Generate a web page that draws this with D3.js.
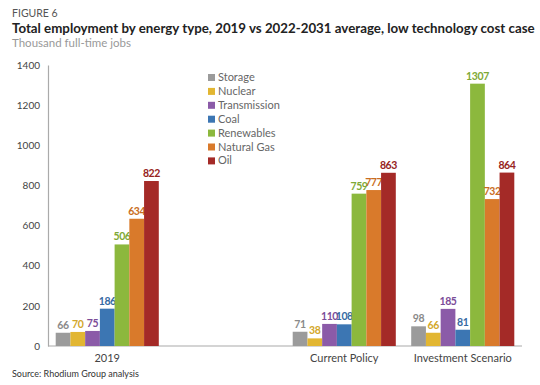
<!DOCTYPE html>
<html>
<head>
<meta charset="utf-8">
<script src="https://cdn.jsdelivr.net/npm/d3@7"></script>
<style>
  body { margin: 0; background: #fff; }
  svg text { font-family: Lato, "Noto Sans", sans-serif; }
</style>
</head>
<body>
<div id="chart"></div>
<script>
const categories = ["2019", "", "Current Policy", "Investment Scenario"];
const series = ["Storage", "Nuclear", "Transmission", "Coal", "Renewables", "Natural Gas", "Oil"];
// values per series, in category order (blank slot has no bars)
const storage      = [66, null, 71, 98];
const nuclear      = [70, null, 38, 66];
const transmission = [75, null, 110, 185];
const coal         = [186, null, 108, 81];
const renewables   = [506, null, 759, 1307];
const naturalGas   = [634, null, 777, 732];
const oil          = [822, null, 863, 864];
const yTicks = [0, 200, 400, 600, 800, 1000, 1200, 1400];

const colors = ["#9b9b9b", "#e2b632", "#8b5ba8", "#3c76b3", "#8cb83d", "#d97a2b", "#a42a27"];
const labelColors = ["#8a8a8a", "#d3a72a", "#7b4c98", "#356aa3", "#7ea935", "#c96d22", "#962320"];

const values = [storage, nuclear, transmission, coal, renewables, naturalGas, oil];
const width = 540, height = 385;
const margin = {top: 65, right: 18, bottom: 39, left: 48};

const svg = d3.select("#chart").append("svg")
  .attr("width", width).attr("height", height);

svg.append("text").attr("x", 12).attr("y", 17)
  .attr("font-size", 10.5).attr("fill", "#555").text("FIGURE 6");
svg.append("text").attr("x", 12).attr("y", 33)
  .attr("font-size", 13.3).attr("font-weight", "bold").attr("fill", "#222")
  .text("Total employment by energy type, 2019 vs 2022-2031 average, low technology cost case");
svg.append("text").attr("x", 12).attr("y", 47)
  .attr("font-size", 11.5).attr("fill", "#999").text("Thousand full-time jobs");

const x = d3.scaleBand().domain(d3.range(categories.length))
  .range([margin.left, width - margin.right]).paddingInner(0.13).paddingOuter(0.065);
const xs = d3.scaleBand().domain(series).range([0, x.bandwidth()]);
const y = d3.scaleLinear().domain([0, 1400]).range([height - margin.bottom, margin.top]);

// y axis
const yAxis = svg.append("g").attr("transform", `translate(${margin.left},0)`)
  .call(d3.axisLeft(y).tickValues(yTicks).tickFormat(d3.format("d")).tickSize(0).tickPadding(8));
yAxis.select(".domain").attr("stroke", "#aaa").attr("stroke-width", 1.2);
yAxis.selectAll("text").attr("font-size", 10).attr("fill", "#444")
  .style("font-family", "Lato, sans-serif");

// x axis
const xAxis = svg.append("g").attr("transform", `translate(0,${height - margin.bottom})`)
  .call(d3.axisBottom(x).tickFormat(i => categories[i]).tickSize(0).tickPadding(8));
xAxis.select(".domain").attr("stroke", "#aaa").attr("stroke-width", 1.2)
  .attr("d", `M${margin.left},0H${width - margin.right}`);
xAxis.selectAll("text").attr("font-size", 11).attr("fill", "#444")
  .style("font-family", "Lato, sans-serif");

// bars
series.forEach((s, si) => {
  const g = svg.append("g");
  const data = values[si].map((v, ci) => ({v, ci})).filter(d => d.v != null);
  g.selectAll("rect").data(data).join("rect")
    .attr("x", d => x(d.ci) + xs(s))
    .attr("y", d => y(d.v))
    .attr("width", xs.bandwidth())
    .attr("height", d => y(0) - y(d.v))
    .attr("fill", colors[si]);
  g.selectAll("text").data(data).join("text")
    .attr("x", d => x(d.ci) + xs(s) + xs.bandwidth() / 2)
    .attr("y", d => y(d.v) - 4)
    .attr("text-anchor", "middle")
    .attr("font-size", 10.5).attr("font-weight", "bold")
    .attr("letter-spacing", -0.4)
    .attr("fill", labelColors[si])
    .text(d => d.v);
});

// legend
const legend = svg.append("g").attr("transform", "translate(208,80)");
series.forEach((s, i) => {
  const row = legend.append("g").attr("transform", `translate(0,${i * 13.9})`);
  row.append("rect").attr("x", 0).attr("y", -6).attr("width", 7).attr("height", 7)
    .attr("fill", colors[i]);
  row.append("text").attr("x", 10).attr("y", 1)
    .attr("font-size", 11).attr("fill", "#666").text(s);
});

svg.append("text").attr("x", 12).attr("y", 377)
  .attr("font-size", 9).attr("fill", "#333").text("Source: Rhodium Group analysis");
</script>
</body>
</html>
